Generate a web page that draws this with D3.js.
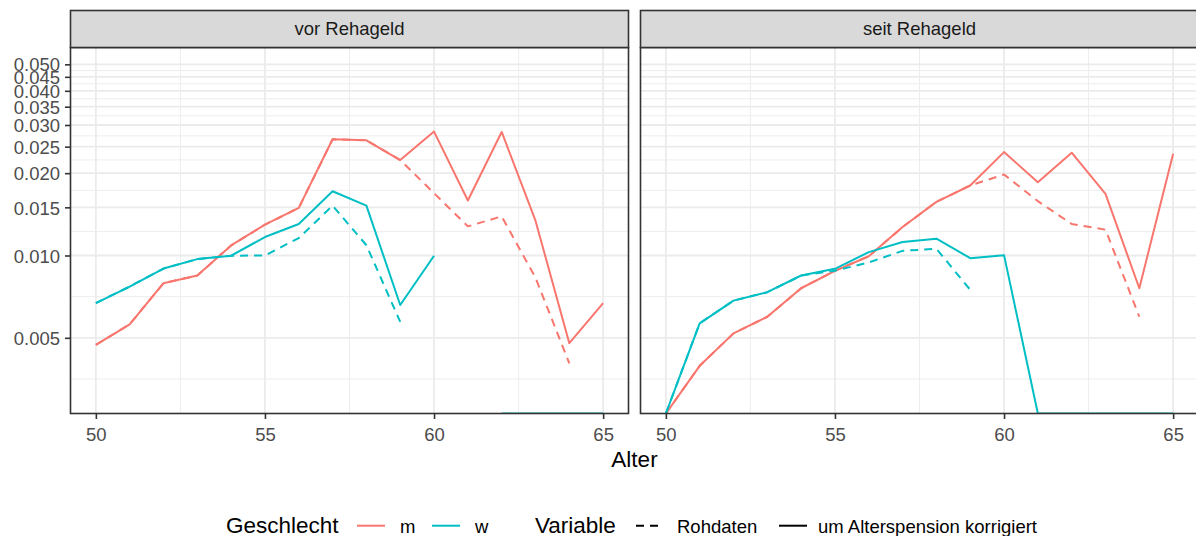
<!DOCTYPE html>
<html>
<head>
<meta charset="utf-8">
<script src="https://cdn.jsdelivr.net/npm/d3@7"></script>
<style>
  html, body { margin: 0; padding: 0; background: #fff; }
  svg { display: block; font-family: "Liberation Sans", Arial, Helvetica, sans-serif; }
</style>
</head>
<body>
<svg id="chart" width="1196" height="536"></svg>
<script>
// Facets, groups and ages
const facets = ["vor Rehageld", "seit Rehageld"];
const sexes = ["m", "w"];
const variables = ["Rohdaten", "um Alterspension korrigiert"];
const ages = [50, 51, 52, 53, 54, 55, 56, 57, 58, 59, 60, 61, 62, 63, 64, 65];

// Rates per age (null = no value, 0 = zero rate)
const vorMKorr = [0.00471, 0.0056, 0.00792, 0.00845, 0.01088, 0.01296, 0.01493, 0.0266, 0.02637, 0.02233, 0.02838, 0.01588, 0.02829, 0.0134, 0.00478, 0.0067];
const vorMRoh  = [0.00471, 0.0056, 0.00792, 0.00845, 0.01088, 0.01296, 0.01493, 0.0266, 0.02637, 0.02233, 0.0169, 0.01278, 0.0139, 0.0083, 0.00403, null];
const vorWKorr = [0.0067, 0.0077, 0.00896, 0.0097, 0.00998, 0.01168, 0.01304, 0.01718, 0.01522, 0.00659, 0.00998, null, 0, 0, 0, 0];
const vorWRoh  = [0.0067, 0.0077, 0.00896, 0.0097, 0.00998, 0.0100, 0.01158, 0.01522, 0.0109, 0.00572, null, null, null, null, null, null];

const seitMKorr = [0, 0.00395, 0.00519, 0.00597, 0.00759, 0.00879, 0.00994, 0.01271, 0.01571, 0.01803, 0.02388, 0.01854, 0.02376, 0.0168, 0.00759, 0.02356];
const seitMRoh  = [0, 0.00395, 0.00519, 0.00597, 0.00759, 0.00879, 0.00994, 0.01271, 0.01571, 0.01803, 0.01978, 0.0158, 0.01304, 0.01243, 0.00597, null];
const seitWKorr = [0, 0.00565, 0.00684, 0.00734, 0.00845, 0.00894, 0.01029, 0.0112, 0.01152, 0.00978, 0.01003, 0, 0, 0, 0, 0];
const seitWRoh  = [0, 0.00565, 0.00684, 0.00734, 0.00845, 0.0088, 0.00943, 0.0104, 0.01058, 0.00749, null, null, null, null, null, null];

// Axis breaks
const yTicks = [0.005, 0.010, 0.015, 0.020, 0.025, 0.030, 0.035, 0.040, 0.045, 0.050];
const yTickLabels = ["0.005", "0.010", "0.015", "0.020", "0.025", "0.030", "0.035", "0.040", "0.045", "0.050"];
const xTicks = [50, 55, 60, 65];
const xMinor = [52.5, 57.5, 62.5];
const yRange = [0.002644, 0.05761];   // visible range of the log axis

const colors = { m: "#F8766D", w: "#00BFC4" };
const dashes = { "Rohdaten": "8,6", "um Alterspension korrigiert": null };

const seriesByFacet = {
  "vor Rehageld": [
    { sex: "m", variable: "Rohdaten", values: vorMRoh },
    { sex: "m", variable: "um Alterspension korrigiert", values: vorMKorr },
    { sex: "w", variable: "Rohdaten", values: vorWRoh },
    { sex: "w", variable: "um Alterspension korrigiert", values: vorWKorr }
  ],
  "seit Rehageld": [
    { sex: "m", variable: "Rohdaten", values: seitMRoh },
    { sex: "m", variable: "um Alterspension korrigiert", values: seitMKorr },
    { sex: "w", variable: "Rohdaten", values: seitWRoh },
    { sex: "w", variable: "um Alterspension korrigiert", values: seitWKorr }
  ]
};

// Layout
const panelTop = 47.5, panelBottom = 413.5, stripTop = 10.5;
const panelX = [[70.5, 628.5], [640.5, 1198.5]];

const svg = d3.select("#chart");
svg.append("rect").attr("width", 1196).attr("height", 536).attr("fill", "#fff");

const y = d3.scaleLog().domain(yRange).range([panelBottom, panelTop]).clamp(true);

// minor breaks: midpoints (in log space) between majors, plus one below the first
const logT = yTicks.map(Math.log10);
const step0 = logT[1] - logT[0];
const ext = [logT[0] - step0, ...logT];
const yMinor = d3.pairs(ext).map(([a, b]) => Math.pow(10, (a + b) / 2));

const defs = svg.append("defs");

facets.forEach((facet, i) => {
  const [x0, x1] = panelX[i];
  const x = d3.scaleLinear().domain([49.25, 65.75]).range([x0, x1]);
  const g = svg.append("g");

  // panel background
  g.append("rect").attr("x", x0).attr("y", panelTop).attr("width", x1 - x0)
    .attr("height", panelBottom - panelTop).attr("fill", "#fff");

  // minor grid
  g.selectAll(".ymin").data(yMinor.filter(v => y(v) > panelTop && y(v) < panelBottom)).join("line")
    .attr("x1", x0).attr("x2", x1).attr("y1", d => y(d)).attr("y2", d => y(d))
    .attr("stroke", "#EBEBEB").attr("stroke-width", 0.9);
  g.selectAll(".xmin").data(xMinor).join("line")
    .attr("x1", d => x(d)).attr("x2", d => x(d)).attr("y1", panelTop).attr("y2", panelBottom)
    .attr("stroke", "#EBEBEB").attr("stroke-width", 0.9);
  // major grid
  g.selectAll(".ymaj").data(yTicks).join("line")
    .attr("x1", x0).attr("x2", x1).attr("y1", d => y(d)).attr("y2", d => y(d))
    .attr("stroke", "#EBEBEB").attr("stroke-width", 1.8);
  g.selectAll(".xmaj").data(xTicks).join("line")
    .attr("x1", d => x(d)).attr("x2", d => x(d)).attr("y1", panelTop).attr("y2", panelBottom)
    .attr("stroke", "#EBEBEB").attr("stroke-width", 1.8);

  // data lines, clipped to the panel
  const clipId = "clip" + i;
  defs.append("clipPath").attr("id", clipId).append("rect")
    .attr("x", x0).attr("y", panelTop).attr("width", x1 - x0).attr("height", panelBottom - panelTop);
  const lg = g.append("g").attr("clip-path", `url(#${clipId})`);
  const line = d3.line()
    .defined(d => d.v != null)
    .x(d => x(d.age))
    .y(d => y(d.v));
  seriesByFacet[facet].forEach(s => {
    const pts = ages.map((a, k) => ({ age: a, v: s.values[k] }));
    lg.append("path").datum(pts).attr("d", line)
      .attr("fill", "none")
      .attr("stroke", colors[s.sex])
      .attr("stroke-width", 2)
      .attr("stroke-linejoin", "round")
      .attr("stroke-dasharray", dashes[s.variable]);
  });

  // panel border
  g.append("rect").attr("x", x0).attr("y", panelTop).attr("width", x1 - x0)
    .attr("height", panelBottom - panelTop).attr("fill", "none")
    .attr("stroke", "#333333").attr("stroke-width", 1.6);

  // strip
  g.append("rect").attr("x", x0).attr("y", stripTop).attr("width", x1 - x0)
    .attr("height", panelTop - stripTop).attr("fill", "#D9D9D9")
    .attr("stroke", "#333333").attr("stroke-width", 1.6);
  g.append("text").attr("x", (x0 + x1) / 2).attr("y", 35)
    .attr("text-anchor", "middle").attr("font-size", 18.5).attr("fill", "#1A1A1A")
    .text(facet);

  // x axis
  const xa = g.append("g").attr("transform", `translate(0,${panelBottom})`)
    .call(d3.axisBottom(x).tickValues(xTicks).tickSize(5.5).tickPadding(4).tickFormat(d3.format("d")));
  xa.select(".domain").remove();
  xa.selectAll(".tick line").attr("stroke", "#333333").attr("stroke-width", 1.6);
  xa.selectAll(".tick text").attr("fill", "#4D4D4D").attr("font-size", 18.5)
    .attr("font-family", null).attr("dy", null).attr("y", 27);

  // y axis (left panel only)
  if (i === 0) {
    const ya = g.append("g").attr("transform", `translate(${x0},0)`)
      .call(d3.axisLeft(y).tickValues(yTicks).tickSize(5.5).tickPadding(4)
        .tickFormat((d, k) => yTickLabels[k]));
    ya.select(".domain").remove();
    ya.selectAll(".tick line").attr("stroke", "#333333").attr("stroke-width", 1.6);
    ya.selectAll(".tick text").attr("fill", "#4D4D4D").attr("font-size", 18.5)
      .attr("font-family", null).attr("x", -10.5).attr("dy", "0.36em");
  }
});

// x axis title
svg.append("text").attr("x", (panelX[0][0] + panelX[1][1]) / 2).attr("y", 467)
  .attr("text-anchor", "middle").attr("font-size", 22.5).attr("fill", "#000").text("Alter");

// legend
const leg = svg.append("g");
const legY = 525.7, legBase = 533;
leg.append("text").attr("x", 226).attr("y", legBase).attr("font-size", 22.5).text("Geschlecht");
const sexKeys = [{ s: "m", cx: 371, tx: 400 }, { s: "w", cx: 446, tx: 475 }];
sexKeys.forEach(k => {
  leg.append("line").attr("x1", k.cx - 14).attr("x2", k.cx + 14).attr("y1", legY).attr("y2", legY)
    .attr("stroke", colors[k.s]).attr("stroke-width", 2);
  leg.append("text").attr("x", k.tx).attr("y", legBase).attr("font-size", 18.5).text(k.s);
});
leg.append("text").attr("x", 535).attr("y", legBase).attr("font-size", 22.5).text("Variable");
const varKeys = [{ v: "Rohdaten", cx: 650, tx: 677 }, { v: "um Alterspension korrigiert", cx: 793, tx: 818 }];
varKeys.forEach(k => {
  leg.append("line").attr("x1", k.cx - 14).attr("x2", k.cx + 14).attr("y1", legY).attr("y2", legY)
    .attr("stroke", "#000").attr("stroke-width", 2)
    .attr("stroke-dasharray", dashes[k.v]);
  leg.append("text").attr("x", k.tx).attr("y", legBase).attr("font-size", 18.5).text(k.v);
});
</script>
</body>
</html>
